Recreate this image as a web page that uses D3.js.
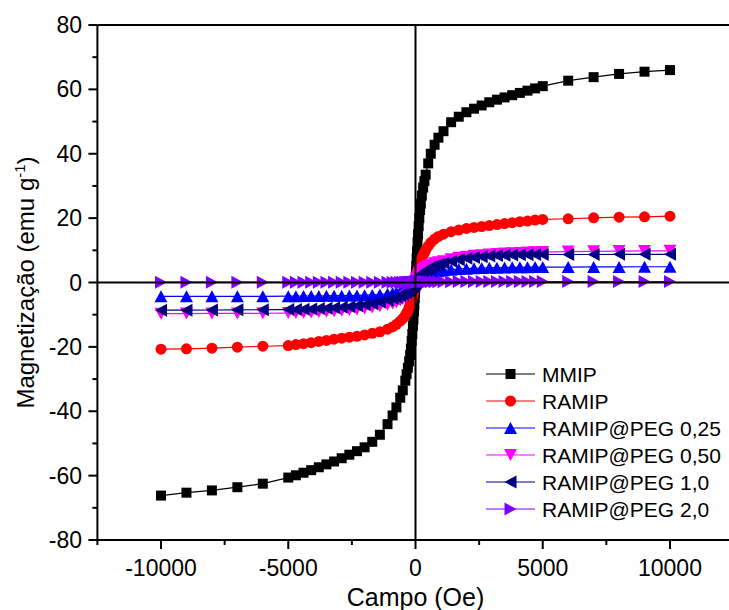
<!DOCTYPE html>
<html>
<head>
<meta charset="utf-8">
<script src="https://cdn.jsdelivr.net/npm/d3@7/dist/d3.min.js"></script>
<style>
  html, body { margin: 0; padding: 0; background: #fff; }
  svg { display: block; font-family: Arial, "Liberation Sans", sans-serif; }
</style>
</head>
<body>
<svg id="chart" width="729" height="610"></svg>
<script>
// Field points (Oe), shared by all six curves. Sparse outside +-5000, dense near zero.
const field = [
  -10000, -9000, -8000, -7000, -6000,
  -5000, -4700, -4400, -4100, -3800, -3500, -3200, -2900, -2600, -2300, -2000, -1700, -1400, -1100,
  -900, -750, -600, -500, -400, -350, -300, -250, -210, -180, -150, -125, -100, -80, -60, -45, -30, -20, -10,
  0,
  10, 20, 30, 45, 60, 80, 100, 125, 150, 180, 210, 250, 300, 350, 400, 500, 600, 750, 900,
  1100, 1400, 1700, 2000, 2300, 2600, 2900, 3200, 3500, 3800, 4100, 4400, 4700, 5000,
  6000, 7000, 8000, 9000, 10000
];

// Magnetization (emu/g), same order as field.
const mmip = [
  -66.2, -65.3, -64.6, -63.6, -62.5,
  -60.6, -59.9, -59.1, -58.3, -57.4, -56.5, -55.6, -54.6, -53.5, -52.4, -51.2, -49.5, -47.3, -44.0,
  -41.3, -38.8, -35.8, -33.5, -30.5, -28.5, -26.5, -24.5, -22.5, -20.5, -18.2, -16.0, -13.5, -11.5, -9.0, -7.0, -4.8, -3.2, -1.6,
  0.0,
  1.8, 3.5, 5.2, 7.5, 9.7, 12.5, 15.0, 17.5, 20.0, 22.5, 24.5, 27.0, 29.5, 31.5, 33.5, 37.0, 40.0, 42.8, 45.0,
  47.0, 49.8, 51.5, 52.9, 54.0, 55.0, 56.0, 56.8, 57.5, 58.2, 58.9, 59.6, 60.3, 61.0,
  62.7, 63.8, 64.8, 65.5, 66.0
];
const ramip = [
  -20.7, -20.6, -20.4, -20.1, -19.8,
  -19.6, -19.3, -19.0, -18.7, -18.3, -18.0, -17.6, -17.3, -17.0, -16.7, -16.3, -15.8, -15.3, -14.5,
  -13.8, -13.0, -12.0, -11.2, -10.2, -9.5, -8.8, -7.7, -6.9, -6.2, -5.5, -4.8, -4.0, -3.3, -2.5, -1.9, -1.2, -0.8, -0.4,
  0.0,
  0.4, 0.8, 1.2, 1.8, 2.4, 3.1, 3.8, 4.6, 5.3, 6.0, 6.7, 7.6, 8.5, 9.3, 10.0, 11.3, 12.4, 13.5, 14.3,
  15.0, 15.8, 16.3, 16.8, 17.1, 17.4, 17.7, 18.0, 18.3, 18.6, 18.9, 19.1, 19.4, 19.6,
  19.8, 20.1, 20.3, 20.4, 20.6
];
const peg025 = [
  -4.3, -4.3, -4.3, -4.3, -4.3,
  -4.25, -4.25, -4.2, -4.2, -4.2, -4.15, -4.1, -4.1, -4.05, -4.0, -3.95, -3.85, -3.7, -3.5,
  -3.3, -3.1, -2.8, -2.55, -2.3, -2.15, -2.0, -1.75, -1.55, -1.4, -1.2, -1.05, -0.9, -0.75, -0.6, -0.45, -0.3, -0.2, -0.1,
  0.0,
  0.1, 0.2, 0.3, 0.45, 0.6, 0.75, 0.9, 1.05, 1.2, 1.4, 1.55, 1.75, 2.0, 2.2, 2.4, 2.7, 3.0, 3.3, 3.5,
  3.8, 4.0, 4.2, 4.3, 4.4, 4.5, 4.55, 4.6, 4.65, 4.7, 4.7, 4.75, 4.8, 4.8,
  4.8, 4.85, 4.85, 4.9, 4.9
];
const peg050 = [
  -9.7, -9.65, -9.6, -9.6, -9.55,
  -9.5, -9.45, -9.4, -9.3, -9.2, -9.05, -8.9, -8.75, -8.55, -8.35, -8.1, -7.8, -7.4, -6.9,
  -6.5, -6.1, -5.6, -5.1, -4.6, -4.25, -3.9, -3.5, -3.15, -2.85, -2.5, -2.2, -1.8, -1.5, -1.15, -0.9, -0.6, -0.4, -0.2,
  0.0,
  0.2, 0.4, 0.6, 0.9, 1.15, 1.5, 1.8, 2.2, 2.5, 2.85, 3.15, 3.5, 3.9, 4.25, 4.6, 5.1, 5.5, 6.0, 6.3,
  6.6, 7.2, 7.7, 8.0, 8.3, 8.5, 8.7, 8.85, 9.0, 9.1, 9.2, 9.3, 9.4, 9.45,
  9.6, 9.7, 9.75, 9.8, 9.85
];
const peg10 = [
  -8.6, -8.6, -8.55, -8.5, -8.45,
  -8.4, -8.35, -8.3, -8.2, -8.1, -8.0, -7.85, -7.7, -7.5, -7.25, -6.95, -6.6, -6.1, -5.5,
  -5.0, -4.6, -4.1, -3.7, -3.2, -2.9, -2.6, -2.25, -2.0, -1.75, -1.5, -1.3, -1.1, -0.9, -0.7, -0.55, -0.35, -0.25, -0.1,
  0.0,
  0.15, 0.3, 0.45, 0.65, 0.85, 1.1, 1.35, 1.6, 1.85, 2.1, 2.35, 2.65, 3.0, 3.35, 3.7, 4.2, 4.7, 5.2, 5.6,
  6.0, 6.6, 7.1, 7.5, 7.8, 8.0, 8.2, 8.35, 8.45, 8.55, 8.6, 8.65, 8.7, 8.7,
  8.7, 8.7, 8.75, 8.75, 8.75
];
const peg20 = [
  0.1, 0.1, 0.1, 0.1, 0.1,
  0.1, 0.1, 0.1, 0.1, 0.1, 0.1, 0.1, 0.1, 0.1, 0.1, 0.1, 0.1, 0.1, 0.1,
  0.1, 0.1, 0.1, 0.1, 0.1, 0.1, 0.1, 0.1, 0.1, 0.1, 0.1, 0.1, 0.1, 0.1, 0.1, 0.1, 0.1, 0.1, 0.1,
  0.15,
  0.2, 0.2, 0.2, 0.2, 0.2, 0.2, 0.2, 0.2, 0.2, 0.2, 0.2, 0.2, 0.2, 0.2, 0.2, 0.25, 0.25, 0.25, 0.25,
  0.25, 0.25, 0.3, 0.3, 0.3, 0.3, 0.3, 0.3, 0.3, 0.3, 0.3, 0.3, 0.3, 0.3,
  0.3, 0.3, 0.3, 0.3, 0.3
];

const seriesNames = ["MMIP", "RAMIP", "RAMIP@PEG 0,25", "RAMIP@PEG 0,50", "RAMIP@PEG 1,0", "RAMIP@PEG 2,0"];
const seriesValues = [mmip, ramip, peg025, peg050, peg10, peg20];
const seriesColours = ["#000000", "#ff0000", "#0000ff", "#ff00ff", "#000080", "#8000ff"];
const seriesShapes = ["square", "circle", "up", "down", "left", "right"];

const xTicks = [-10000, -5000, 0, 5000, 10000];
const xMinor = [-12500, -7500, -2500, 2500, 7500, 12500];
const yTicks = [-80, -60, -40, -20, 0, 20, 40, 60, 80];
const yMinor = [-70, -50, -30, -10, 10, 30, 50, 70];

const svg = d3.select("#chart");
const x = d3.scaleLinear().domain([-12500, 12500]).range([97.4, 733.6]);
const y = d3.scaleLinear().domain([-80, 80]).range([540, 25]);

// Marker path for a given shape, centred at 0,0.
function markerPath(shape) {
  const w = 6.5, h = 6;
  switch (shape) {
    case "square": return d3.symbol(d3.symbolSquare, 100)();
    case "circle": return d3.symbol(d3.symbolCircle, 95)();
    case "up": return `M0,${-h}L${w},${h}L${-w},${h}Z`;
    case "down": return `M0,${h}L${w},${-h}L${-w},${-h}Z`;
    case "left": return `M${-h},0L${h},${-w}L${h},${w}Z`;
    case "right": return `M${h},0L${-h},${-w}L${-h},${w}Z`;
  }
}

// Curves, drawn in legend order so the last one sits on top.
const line = d3.line().x((d) => x(d[0])).y((d) => y(d[1]));
const plot = svg.append("g");
seriesValues.forEach((vals, i) => {
  const pts = field.map((f, j) => [f, vals[j]]);
  const g = plot.append("g");
  g.append("path")
    .attr("d", line(pts))
    .attr("fill", "none")
    .attr("stroke", seriesColours[i])
    .attr("stroke-width", 1.2);
  g.selectAll("path.m")
    .data(pts)
    .join("path")
    .attr("class", "m")
    .attr("d", markerPath(seriesShapes[i]))
    .attr("transform", (d) => `translate(${x(d[0])},${y(d[1])})`)
    .attr("fill", seriesColours[i]);
});

// Frame and zero lines.
const axisG = svg.append("g").attr("stroke", "#000").attr("stroke-width", 2).attr("fill", "none");
axisG.append("line").attr("x1", x.range()[0]).attr("x2", x.range()[0]).attr("y1", y(80)).attr("y2", y(-80));
axisG.append("line").attr("x1", x.range()[0]).attr("x2", x.range()[1]).attr("y1", y(80)).attr("y2", y(80));
axisG.append("line").attr("x1", x.range()[0]).attr("x2", x.range()[1]).attr("y1", y(-80)).attr("y2", y(-80));
axisG.append("line").attr("x1", x.range()[1]).attr("x2", x.range()[1]).attr("y1", y(80)).attr("y2", y(-80));
axisG.append("line").attr("x1", x.range()[0]).attr("x2", x.range()[1]).attr("y1", y(0)).attr("y2", y(0));
axisG.append("line").attr("x1", x(0)).attr("x2", x(0)).attr("y1", y(80)).attr("y2", y(-80));

// Ticks.
const bottom = y(-80), left = x.range()[0];
axisG.selectAll("line.xt").data(xTicks).join("line").attr("class", "xt")
  .attr("x1", (d) => x(d)).attr("x2", (d) => x(d)).attr("y1", bottom).attr("y2", bottom + 9);
axisG.selectAll("line.xm").data(xMinor).join("line").attr("class", "xm")
  .attr("x1", (d) => x(d)).attr("x2", (d) => x(d)).attr("y1", bottom).attr("y2", bottom + 5);
axisG.selectAll("line.yt").data(yTicks).join("line").attr("class", "yt")
  .attr("x1", left - 9).attr("x2", left).attr("y1", (d) => y(d)).attr("y2", (d) => y(d));
axisG.selectAll("line.ym").data(yMinor).join("line").attr("class", "ym")
  .attr("x1", left - 5).attr("x2", left).attr("y1", (d) => y(d)).attr("y2", (d) => y(d));

// Tick labels.
svg.append("g").selectAll("text").data(xTicks).join("text")
  .attr("x", (d) => x(d)).attr("y", 576)
  .attr("text-anchor", "middle").attr("font-size", 23)
  .text((d) => d);
svg.append("g").selectAll("text").data(yTicks).join("text")
  .attr("x", 82).attr("y", (d) => y(d)).attr("dy", "0.35em")
  .attr("text-anchor", "end").attr("font-size", 23)
  .text((d) => d);

// Axis titles.
svg.append("text")
  .attr("x", x(0)).attr("y", 606)
  .attr("text-anchor", "middle").attr("font-size", 25)
  .text("Campo (Oe)");
const yt = svg.append("text")
  .attr("transform", `translate(34,${y(0)}) rotate(-90)`)
  .attr("text-anchor", "middle").attr("font-size", 24);
yt.append("tspan").text("Magnetização (emu g");
yt.append("tspan").attr("font-size", 15).attr("dy", -9).text("-1");
yt.append("tspan").attr("dy", 9).text(")");

// Legend.
const legend = svg.append("g");
const rowY = (i) => 374 + i * 27;
seriesNames.forEach((name, i) => {
  const r = legend.append("g").attr("transform", `translate(0,${rowY(i)})`);
  r.append("line").attr("x1", 486).attr("x2", 535).attr("y1", 0).attr("y2", 0)
    .attr("stroke", seriesColours[i]).attr("stroke-width", 1.2);
  r.append("path").attr("d", markerPath(seriesShapes[i]))
    .attr("transform", "translate(510.5,0)").attr("fill", seriesColours[i]);
  r.append("text").attr("x", 542).attr("y", 0).attr("dy", "0.36em")
    .attr("font-size", 21).text(name);
});
</script>
</body>
</html>
